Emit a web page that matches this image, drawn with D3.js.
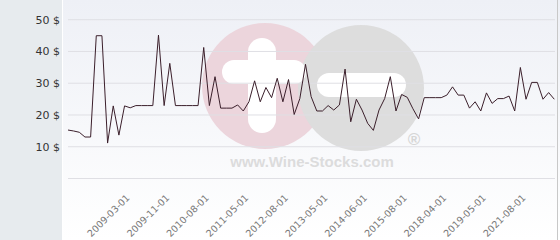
<!DOCTYPE html>
<html>
<head>
<meta charset="utf-8">
<script src="https://cdn.jsdelivr.net/npm/d3@7"></script>
<style>
  html, body { margin: 0; padding: 0; background: #fff; }
  svg { display: block; }
</style>
</head>
<body>
<div id="chart"></div>
<script>
// prices, one per point
const prices = [
  15.1, 14.8, 14.4, 12.9, 12.9, 44.8, 44.8, 11.0, 22.7, 13.5,
  22.7, 22.1, 22.8, 22.8, 22.8, 22.8, 45.0, 22.8, 36.1, 22.8,
  22.8, 22.8, 22.8, 22.8, 41.1, 22.8, 31.9, 22.0, 22.0, 22.0,
  23.0, 21.1, 24.0, 30.6, 24.0, 28.5, 25.3, 31.4, 24.0, 31.0,
  20.0, 25.0, 35.8, 25.6, 21.1, 21.1, 22.8, 21.4, 23.0, 34.3,
  17.7, 24.8, 21.4, 17.2, 15.0, 21.4, 25.0, 31.9, 21.1, 26.3,
  25.4, 21.8, 18.6, 25.3, 25.3, 25.3, 25.3, 26.1, 28.7, 26.1,
  26.1, 22.0, 24.0, 21.1, 26.8, 23.5, 25.0, 25.0, 25.8, 21.1,
  34.8, 24.8, 30.1, 30.1, 24.8, 26.9, 24.8
];
const dateLabels = ['2009-03-01', '2009-11-01', '2010-08-01', '2011-05-01', '2012-08-01',
  '2013-05-01', '2014-06-01', '2015-08-01', '2018-04-01', '2019-05-01', '2021-08-01'];
const yTicks = [10, 20, 30, 40, 50];

const W = 560, H = 240;
const svg = d3.select('#chart').append('svg')
  .attr('width', W).attr('height', H);

const defs = svg.append('defs');
const grad = defs.append('linearGradient').attr('id', 'bg')
  .attr('x1', 0).attr('y1', 0).attr('x2', 0).attr('y2', 1);
grad.append('stop').attr('offset', '0%').attr('stop-color', '#eef0f6');
grad.append('stop').attr('offset', '100%').attr('stop-color', '#ffffff');

// backgrounds
svg.append('rect').attr('x', 63).attr('y', 0).attr('width', W - 63).attr('height', H)
  .attr('fill', 'url(#bg)');
svg.append('rect').attr('x', 0).attr('y', 0).attr('width', 62).attr('height', H)
  .attr('fill', '#e7ebee');
svg.append('rect').attr('x', 557).attr('y', 0).attr('width', 1).attr('height', H)
  .attr('fill', '#c8c8c8');

const idx = d3.range(prices.length);
const x = d3.scalePoint().domain(idx).range([68, 554.3]);
const y = d3.scaleLinear().domain([0, 50]).range([178, 19.2]);

// watermark
const wm = svg.append('g');
wm.append('circle').attr('cx', 265).attr('cy', 86).attr('r', 63).attr('fill', '#ecd5dc');
wm.append('circle').attr('cx', 361).attr('cy', 88).attr('r', 63).attr('fill', '#dddddd');
wm.append('rect').attr('x', 248).attr('y', 38).attr('width', 28).attr('height', 95)
  .attr('rx', 14).attr('fill', '#ffffff');
wm.append('rect').attr('x', 222).attr('y', 60).attr('width', 84).attr('height', 24)
  .attr('rx', 12).attr('fill', '#ffffff');
wm.append('rect').attr('x', 317).attr('y', 73).attr('width', 89).attr('height', 24)
  .attr('rx', 12).attr('fill', '#ffffff');
wm.append('text').attr('x', 312).attr('y', 167).attr('text-anchor', 'middle')
  .attr('font-family', 'Liberation Sans, Arial, sans-serif').attr('font-weight', 'bold')
  .attr('font-size', 15).attr('fill', '#dcdcdc').text('www.Wine-Stocks.com');
wm.append('text').attr('x', 414).attr('y', 145).attr('text-anchor', 'middle')
  .attr('font-family', 'Liberation Sans, Arial, sans-serif').attr('font-weight', 'bold')
  .attr('font-size', 17).attr('fill', '#d6d6d6').text('®');

// grid + y labels
const yAxis = d3.axisLeft(y).tickValues([0].concat(yTicks))
  .tickSize(-(555 - 68)).tickFormat(d => d ? d + ' $' : '');
const gy = svg.append('g').attr('transform', 'translate(68,0)').call(yAxis);
gy.select('.domain').remove();
gy.selectAll('.tick line').attr('stroke', '#dfdfe4');
gy.selectAll('.tick text').attr('x', -8).attr('dy', '0.35em')
  .attr('font-family', 'DejaVu Sans, sans-serif').attr('font-size', 11).attr('fill', '#333');

// x labels
const labelIdx = dateLabels.map((d, i) => 10 + 7 * i);
const xAxis = d3.axisBottom(x).tickValues(labelIdx)
  .tickSize(0).tickFormat(d => dateLabels[labelIdx.indexOf(d)]);
const gx = svg.append('g').attr('transform', 'translate(3,196)').call(xAxis);
gx.select('.domain').remove();
gx.selectAll('.tick text')
  .attr('text-anchor', 'end').attr('x', 0).attr('y', 0).attr('dy', '0.35em')
  .attr('transform', 'rotate(-45)')
  .attr('font-family', 'DejaVu Sans, sans-serif').attr('font-size', 9.5).attr('fill', '#777');

// price line
const line = d3.line().x((d, i) => x(i)).y(d => y(d));
svg.append('path').datum(prices)
  .attr('d', line)
  .attr('fill', 'none')
  .attr('stroke', '#3b1f2b')
  .attr('stroke-width', 1);
</script>
</body>
</html>
